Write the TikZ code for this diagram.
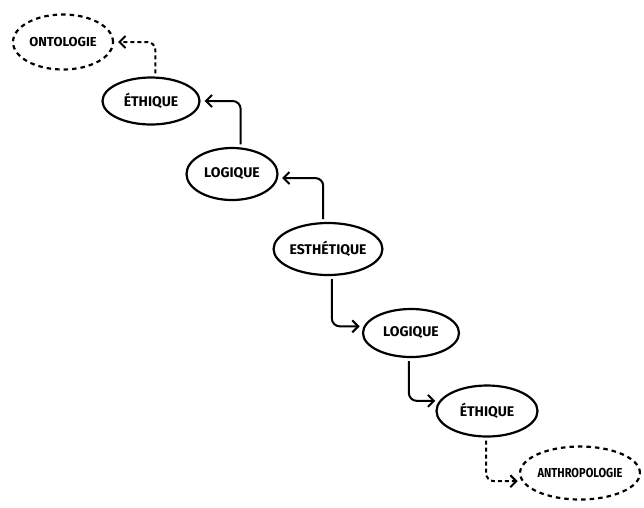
\documentclass[tikz,border=0pt]{standalone}
\usepackage{fontspec}
\setmainfont{Fira Sans}
\usetikzlibrary{arrows.meta,shapes.geometric}
\begin{document}
\begin{tikzpicture}[x=1pt,y=-1pt,
  concept/.style={draw, line width=2.2pt, ellipse, inner sep=0pt, font=\bfseries\fontsize{14}{16}\selectfont},
  hypo/.style={concept, dash pattern=on 4.5pt off 4pt},
  link/.style={line width=2pt, rounded corners=8pt, -{Straight Barb[length=6pt,width=12pt,line width=2pt]}, shorten <=3pt, shorten >=4pt},
  hlink/.style={link, dash pattern=on 4pt off 3pt}]
\useasboundingbox (0,0) rectangle (644,507);
\node[hypo, minimum width=100pt, minimum height=55pt, font=\bfseries\fontsize{13}{15}\selectfont] (onto) at (63,42) {ONTOLOGIE};
\node[concept, minimum width=97pt, minimum height=47pt] (eth1) at (151,101) {ÉTHIQUE};
\node[concept, minimum width=91pt, minimum height=52pt] (log1) at (232,174) {LOGIQUE};
\node[concept, minimum width=105pt, minimum height=52pt] (esth) at (328,249) {ESTHÉTIQUE};
\node[concept, minimum width=96pt, minimum height=48pt] (log2) at (411,333) {LOGIQUE};
\node[concept, minimum width=101pt, minimum height=51pt] (eth2) at (487,411) {ÉTHIQUE};
\node[hypo, minimum width=110pt, minimum height=53pt, font=\bfseries\fontsize{13}{15}\selectfont] (anth) at (580,473) {\scalebox{0.85}[1]{ANTHROPOLOGIE}};
\draw[hlink] (eth1.80) |- (onto.east);
\draw[link] (log1.72) |- (eth1.east);
\draw[link] (esth.100) |- (log1.-5);
\draw[link] (esth.-82) |- (log2.172);
\draw[link] (log2.-95) |- (eth2.168);
\draw[hlink] (eth2.-92) |- (anth.188);
\end{tikzpicture}
\end{document}
